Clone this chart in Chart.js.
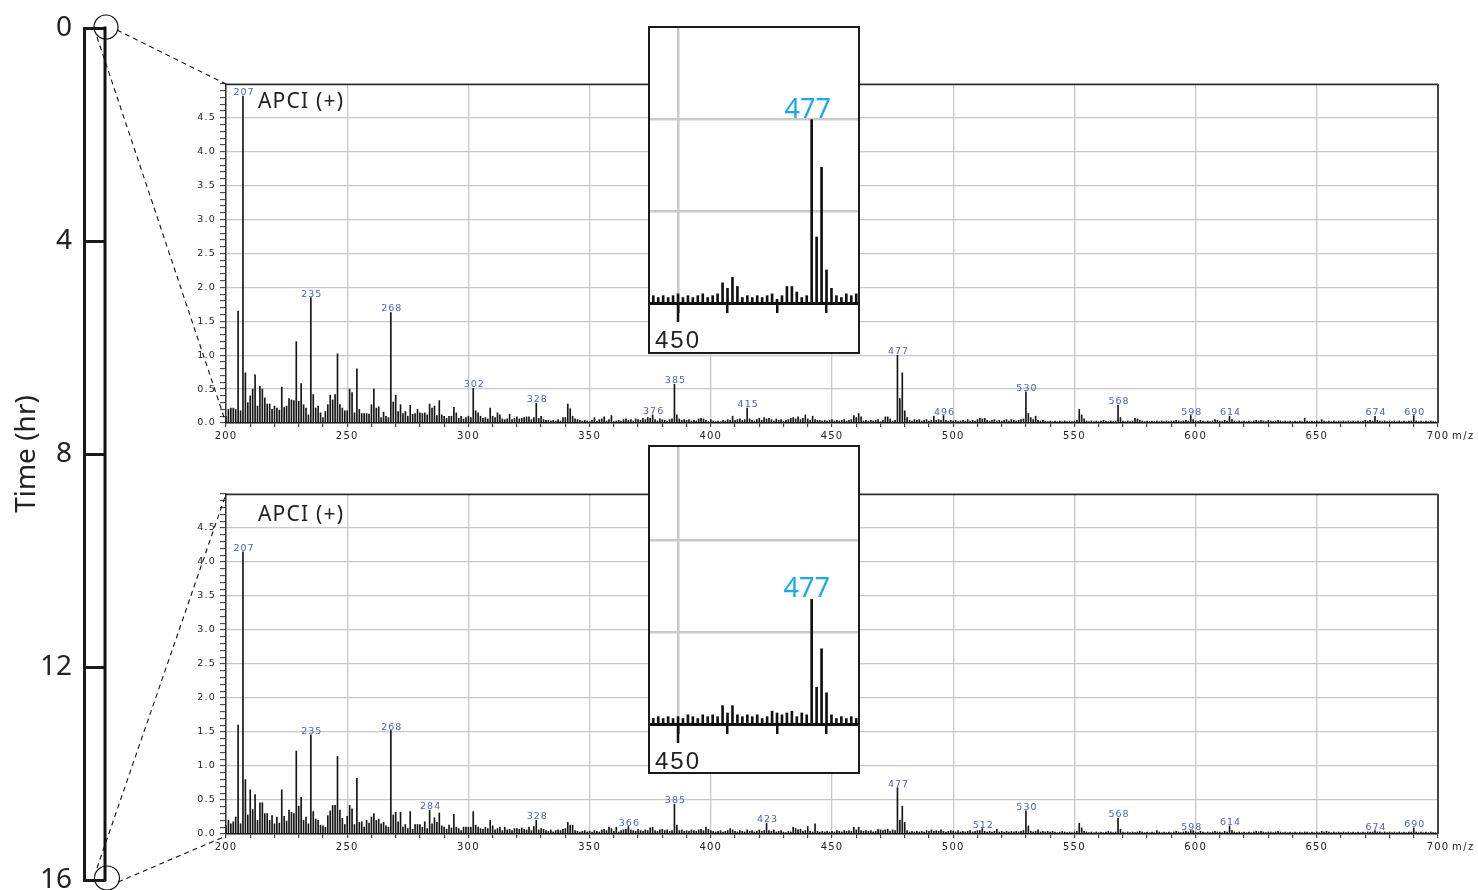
<!DOCTYPE html>
<html><head><meta charset="utf-8">
<script src="https://cdn.jsdelivr.net/npm/chart.js@4.4.1/dist/chart.umd.min.js"></script>
<style>
html,body{margin:0;padding:0;background:#fff;width:1478px;height:890px;overflow:hidden;}
canvas.full{position:absolute;left:0;top:0;}
.inset{position:absolute;left:648px;width:208px;border:2px solid #1c1c1c;background:#fff;}
.inset canvas{display:block;}
</style></head><body>
<canvas id="topSpec" class="full" width="1478" height="890" style="z-index:1"></canvas>
<canvas id="botSpec" class="full" width="1478" height="890" style="z-index:1"></canvas>
<div class="inset" style="top:26px;height:324px;z-index:2"><canvas id="insetTop" width="208" height="324"></canvas></div>
<div class="inset" style="top:445px;height:325px;z-index:2"><canvas id="insetBot" width="208" height="325"></canvas></div>
<canvas id="timeAxis" class="full" width="1478" height="890" style="z-index:3"></canvas>
<script>
// ---------- data ----------
const segmentStarts = [200, 300, 400, 500, 600];   // first m/z of each segment (1 value per integer m/z)

const top200 = [0.10,0.20,0.22,0.22,0.20,1.65,0.18,4.82,0.74,0.30,
 0.40,0.50,0.71,0.25,0.54,0.50,0.37,0.28,0.28,0.20,
 0.25,0.22,0.19,0.53,0.23,0.25,0.36,0.34,0.33,1.20,
 0.32,0.58,0.27,0.22,0.12,1.85,0.42,0.22,0.25,0.15,
 0.08,0.17,0.27,0.41,0.34,0.42,1.02,0.27,0.22,0.18,
 0.18,0.50,0.45,0.15,0.80,0.20,0.14,0.14,0.14,0.13,
 0.27,0.50,0.22,0.24,0.08,0.16,0.10,0.08,1.63,0.31,
 0.41,0.17,0.27,0.14,0.17,0.10,0.26,0.13,0.14,0.20,
 0.15,0.14,0.15,0.12,0.28,0.22,0.25,0.11,0.33,0.12,
 0.10,0.07,0.10,0.10,0.23,0.15,0.07,0.10,0.06,0.08];
const top300 = [0.10,0.08,0.51,0.18,0.15,0.10,0.07,0.08,0.06,0.22,
 0.10,0.08,0.15,0.12,0.06,0.05,0.06,0.13,0.05,0.07,
 0.09,0.06,0.07,0.08,0.09,0.09,0.05,0.08,0.29,0.07,
 0.10,0.05,0.04,0.04,0.03,0.04,0.03,0.05,0.03,0.08,
 0.08,0.28,0.21,0.10,0.06,0.05,0.04,0.03,0.04,0.03,
 0.02,0.04,0.08,0.03,0.05,0.06,0.09,0.03,0.05,0.11,
 0.02,0.03,0.04,0.03,0.05,0.06,0.04,0.05,0.03,0.06,
 0.05,0.04,0.07,0.05,0.08,0.07,0.12,0.05,0.03,0.06,
 0.05,0.04,0.03,0.05,0.06,0.57,0.12,0.06,0.04,0.05,
 0.04,0.05,0.03,0.04,0.03,0.06,0.07,0.06,0.04,0.02];
const top400 = [0.05,0.03,0.02,0.03,0.02,0.04,0.03,0.05,0.04,0.10,
 0.04,0.05,0.06,0.04,0.05,0.22,0.06,0.04,0.03,0.05,
 0.07,0.04,0.08,0.06,0.07,0.05,0.03,0.06,0.04,0.05,
 0.03,0.04,0.05,0.07,0.08,0.06,0.09,0.05,0.07,0.12,
 0.06,0.04,0.10,0.05,0.04,0.04,0.03,0.04,0.03,0.04,
 0.05,0.03,0.04,0.03,0.04,0.05,0.03,0.04,0.05,0.11,
 0.08,0.14,0.09,0.03,0.04,0.03,0.04,0.03,0.04,0.05,
 0.02,0.04,0.09,0.09,0.06,0.03,0.04,1.00,0.36,0.74,
 0.18,0.08,0.04,0.03,0.05,0.04,0.05,0.03,0.04,0.05,
 0.03,0.04,0.10,0.04,0.05,0.04,0.11,0.04,0.03,0.04];
const top500 = [0.03,0.04,0.02,0.03,0.04,0.03,0.05,0.03,0.04,0.03,
 0.05,0.07,0.06,0.07,0.04,0.03,0.04,0.05,0.03,0.04,
 0.03,0.04,0.05,0.03,0.05,0.04,0.03,0.04,0.05,0.06,
 0.46,0.14,0.08,0.05,0.10,0.04,0.03,0.04,0.03,0.02,
 0.03,0.02,0.03,0.02,0.03,0.02,0.03,0.02,0.03,0.02,
 0.03,0.04,0.20,0.12,0.06,0.03,0.02,0.03,0.02,0.03,
 0.02,0.03,0.04,0.03,0.02,0.03,0.02,0.03,0.26,0.08,
 0.03,0.02,0.03,0.02,0.03,0.07,0.06,0.04,0.03,0.02,
 0.03,0.02,0.03,0.02,0.03,0.02,0.03,0.02,0.03,0.02,
 0.03,0.03,0.04,0.03,0.02,0.03,0.04,0.03,0.11,0.05];
const top600 = [0.03,0.02,0.04,0.03,0.02,0.03,0.02,0.03,0.05,0.04,
 0.03,0.02,0.04,0.03,0.10,0.05,0.03,0.02,0.03,0.02,
 0.03,0.02,0.03,0.02,0.03,0.04,0.03,0.04,0.03,0.02,
 0.04,0.03,0.02,0.03,0.04,0.03,0.02,0.03,0.02,0.03,
 0.02,0.03,0.02,0.03,0.02,0.07,0.03,0.02,0.03,0.02,
 0.03,0.02,0.05,0.03,0.02,0.03,0.02,0.03,0.02,0.03,
 0.02,0.03,0.02,0.03,0.02,0.03,0.02,0.03,0.02,0.03,
 0.04,0.03,0.04,0.03,0.10,0.04,0.03,0.02,0.03,0.02,
 0.03,0.02,0.03,0.02,0.03,0.02,0.03,0.02,0.03,0.03,
 0.11,0.03,0.02,0.03,0.02,0.03,0.02,0.03,0.02,0.02];

const bot200 = [0.12,0.20,0.15,0.18,0.25,1.60,0.15,4.15,0.80,0.28,
 0.65,0.36,0.58,0.20,0.46,0.46,0.30,0.30,0.20,0.27,
 0.15,0.25,0.16,0.65,0.26,0.19,0.35,0.32,0.30,1.22,
 0.41,0.54,0.20,0.25,0.15,1.46,0.33,0.22,0.20,0.13,
 0.12,0.10,0.27,0.34,0.42,0.42,1.14,0.35,0.23,0.14,
 0.26,0.42,0.37,0.14,0.82,0.17,0.18,0.10,0.20,0.16,
 0.25,0.30,0.20,0.22,0.15,0.17,0.12,0.10,1.52,0.28,
 0.32,0.18,0.32,0.10,0.14,0.08,0.33,0.07,0.14,0.14,
 0.14,0.10,0.18,0.08,0.35,0.15,0.24,0.17,0.31,0.12,
 0.10,0.07,0.13,0.09,0.29,0.10,0.08,0.05,0.10,0.10];
const bot300 = [0.10,0.10,0.33,0.13,0.10,0.08,0.07,0.10,0.08,0.20,
 0.12,0.06,0.08,0.10,0.05,0.10,0.06,0.07,0.05,0.08,
 0.08,0.07,0.09,0.07,0.06,0.10,0.05,0.11,0.20,0.06,
 0.08,0.07,0.05,0.04,0.06,0.03,0.05,0.06,0.05,0.07,
 0.08,0.17,0.13,0.13,0.05,0.04,0.03,0.04,0.05,0.03,
 0.04,0.03,0.05,0.04,0.03,0.06,0.07,0.05,0.10,0.08,
 0.04,0.10,0.03,0.05,0.06,0.07,0.11,0.06,0.05,0.04,
 0.07,0.05,0.04,0.06,0.05,0.09,0.10,0.05,0.04,0.06,
 0.07,0.05,0.06,0.04,0.05,0.44,0.13,0.05,0.06,0.04,
 0.05,0.04,0.06,0.05,0.04,0.06,0.07,0.05,0.10,0.07];
const bot400 = [0.05,0.04,0.03,0.04,0.05,0.03,0.04,0.05,0.08,0.06,
 0.04,0.03,0.05,0.04,0.03,0.06,0.04,0.05,0.03,0.04,
 0.06,0.04,0.05,0.16,0.05,0.04,0.06,0.03,0.04,0.05,
 0.03,0.02,0.04,0.03,0.10,0.08,0.06,0.07,0.04,0.05,
 0.11,0.04,0.03,0.15,0.04,0.03,0.04,0.03,0.04,0.03,
 0.04,0.03,0.05,0.04,0.03,0.05,0.04,0.05,0.04,0.10,
 0.06,0.10,0.05,0.04,0.05,0.04,0.05,0.03,0.04,0.07,
 0.06,0.05,0.06,0.07,0.04,0.06,0.05,0.68,0.20,0.41,
 0.17,0.05,0.03,0.04,0.03,0.04,0.03,0.04,0.03,0.05,
 0.04,0.06,0.04,0.05,0.04,0.06,0.04,0.03,0.04,0.05];
const bot500 = [0.04,0.03,0.05,0.03,0.04,0.03,0.04,0.05,0.03,0.04,
 0.05,0.05,0.08,0.04,0.03,0.04,0.03,0.04,0.07,0.03,
 0.04,0.03,0.04,0.03,0.04,0.03,0.04,0.03,0.04,0.05,
 0.34,0.12,0.04,0.03,0.04,0.06,0.03,0.04,0.03,0.04,
 0.03,0.04,0.03,0.02,0.03,0.04,0.03,0.02,0.03,0.02,
 0.03,0.04,0.16,0.09,0.04,0.03,0.02,0.03,0.02,0.03,
 0.02,0.03,0.02,0.03,0.04,0.03,0.02,0.03,0.23,0.07,
 0.03,0.02,0.03,0.02,0.03,0.02,0.03,0.04,0.03,0.02,
 0.03,0.02,0.03,0.02,0.05,0.03,0.02,0.03,0.02,0.03,
 0.02,0.03,0.04,0.03,0.02,0.03,0.04,0.03,0.05,0.05];
const bot600 = [0.03,0.02,0.04,0.03,0.02,0.03,0.02,0.03,0.04,0.03,
 0.03,0.02,0.04,0.03,0.12,0.05,0.03,0.02,0.03,0.02,
 0.03,0.02,0.03,0.02,0.03,0.04,0.03,0.04,0.03,0.02,
 0.03,0.03,0.02,0.03,0.04,0.03,0.02,0.03,0.02,0.03,
 0.02,0.03,0.02,0.03,0.02,0.03,0.03,0.02,0.03,0.02,
 0.03,0.02,0.04,0.03,0.04,0.03,0.02,0.03,0.02,0.03,
 0.02,0.03,0.02,0.03,0.02,0.03,0.02,0.03,0.02,0.03,
 0.02,0.03,0.03,0.03,0.05,0.03,0.03,0.02,0.03,0.02,
 0.03,0.02,0.03,0.02,0.03,0.02,0.03,0.02,0.03,0.03,
 0.09,0.03,0.02,0.03,0.02,0.03,0.02,0.03,0.02,0.02];

const topPeakLabels = [207,235,268,302,328,376,385,415,477,496,530,568,598,614,674,690];
const botPeakLabels = [207,235,268,284,328,366,385,423,477,512,530,568,598,614,674,690];
const insetPeak = 477;

const mzTickLabels = [200,250,300,350,400,450,500,550,600,650,700];
const intensityTickLabels = [0.0,0.5,1.0,1.5,2.0,2.5,3.0,3.5,4.0,4.5];
const insetTickValues = [450,460,470,480];
const insetTickLabels = [450];
const insetGridValues = [0.5,1.0];
const insetRange = [444.34, 486.36];
const timeTicks = [0,4,8,12,16];
const timeTitle = 'Time (hr)';
const modeLabel = 'APCI (+)';
const axisUnit = 'm/z';

// ---------- helpers ----------
function buildPoints(segs){
  const pts = [];
  segs.forEach((seg, k) => seg.forEach((v, i) => pts.push({x: segmentStarts[k] + i, y: v})));
  return pts;
}
const topPoints = buildPoints([top200, top300, top400, top500, top600]);
const botPoints = buildPoints([bot200, bot300, bot400, bot500, bot600]);
const valueAt = (pts, m) => pts.find(p => p.x === m).y;
const r1 = v => Math.round(v * 10) / 10;
const CLEAR = 'rgba(0,0,0,0)';
const noEdgePadding = s => { s.paddingLeft = 0; s.paddingRight = 0; s.paddingTop = 0; s.paddingBottom = 0; };

function spacingPlugin(px){
  return {id: 'spacing',
    beforeUpdate(c){ c.ctx.letterSpacing = px; },
    beforeDraw(c){ c.ctx.letterSpacing = px; }};
}

function spectrumPlugin(points, labels, textDy){
  return {id: 'specDecor',
    afterDraw(chart){
      const ctx = chart.ctx, xs = chart.scales.x, ys = chart.scales.y, ca = chart.chartArea;
      ctx.save();
      ctx.strokeStyle = '#2a2a2a'; ctx.lineWidth = 1.5;
      ctx.beginPath(); ctx.moveTo(ca.left, ca.top + 0.5); ctx.lineTo(ca.right, ca.top + 0.5); ctx.stroke();
      ctx.strokeStyle = '#444'; ctx.lineWidth = 2;
      ctx.beginPath(); ctx.moveTo(ca.right, ca.top); ctx.lineTo(ca.right, ca.bottom); ctx.stroke();
      ctx.letterSpacing = '1px';
      ctx.font = '9.5px "DejaVu Sans"'; ctx.fillStyle = '#4a62c4';
      ctx.textAlign = 'center'; ctx.textBaseline = 'alphabetic';
      labels.forEach(m => {
        ctx.fillText(String(m), xs.getPixelForValue(m) + 1, ys.getPixelForValue(valueAt(points, m)) - 1);
      });
      ctx.font = '10px "DejaVu Sans"'; ctx.fillStyle = '#222'; ctx.textAlign = 'left'; ctx.textBaseline = 'middle';
      ctx.letterSpacing = '1.5px';
      ctx.fillText(axisUnit, ca.right + 14, xs.top + 13);
      ctx.letterSpacing = '1.2px';
      ctx.font = '21px "Noto Sans"'; ctx.fillStyle = '#222'; ctx.textBaseline = 'alphabetic';
      ctx.fillText(modeLabel, ca.left + 32, ca.top + textDy);
      ctx.restore();
    }};
}

function spectrumChart(id, points, labels, padTop, padBottom, textDy){
  return new Chart(document.getElementById(id), {
    type: 'bar',
    data: {datasets: [{data: points, backgroundColor: '#151515', barThickness: 1, borderWidth: 0}]},
    options: {
      responsive: false, animation: false, events: [], devicePixelRatio: 1,
      layout: {padding: {left: 0, right: 40, top: padTop, bottom: padBottom}},
      plugins: {legend: {display: false}, tooltip: {enabled: false}},
      scales: {
        x: {type: 'linear', min: 200, max: 700, offset: false,
          grid: {offset: false, lineWidth: 1.3, tickLength: 4, tickWidth: 1, tickColor: '#222',
            color: c => mzTickLabels.includes(c.tick.value) ? '#c8c8c8' : CLEAR},
          border: {color: '#1a1a1a', width: 1.5},
          ticks: {stepSize: 10, autoSkip: false, maxRotation: 0, padding: 3, color: '#222',
            font: {family: 'DejaVu Sans', size: 10},
            callback: v => mzTickLabels.includes(v) ? String(v) : ''},
          afterFit: s => { s.height = 22; }},
        y: {min: 0, max: 5,
          grid: {lineWidth: 1.3, tickLength: 6, tickWidth: 1, tickColor: '#333',
            color: c => (Math.round(r1(c.tick.value) * 10) % 5 === 0) ? '#c8c8c8' : CLEAR},
          border: {color: '#333', width: 1.5},
          ticks: {stepSize: 0.1, autoSkip: false, padding: 4, color: '#222',
            font: {family: 'DejaVu Sans', size: 9.5},
            callback: v => intensityTickLabels.includes(r1(v)) ? r1(v).toFixed(1) : ''},
          afterFit: s => { s.width = 226; }}
      }
    },
    plugins: [spacingPlugin('1.2px'), spectrumPlugin(points, labels, textDy)]
  });
}

function insetChart(id, points, yMax, axisH, labelDx){
  return new Chart(document.getElementById(id), {
    type: 'bar',
    data: {datasets: [{data: points, backgroundColor: '#111', barThickness: 2, borderWidth: 0}]},
    options: {
      responsive: false, animation: false, events: [], devicePixelRatio: 1,
      layout: {padding: 0},
      plugins: {legend: {display: false}, tooltip: {enabled: false}},
      scales: {
        x: {type: 'linear', min: insetRange[0], max: insetRange[1], offset: false,
          afterBuildTicks: s => { s.ticks = insetTickValues.map(v => ({value: v})); },
          grid: {offset: false, lineWidth: 2.5, tickLength: 10, tickWidth: 2.5, tickColor: '#111',
            color: c => insetTickLabels.includes(c.tick.value) ? '#cacaca' : CLEAR},
          border: {color: '#111', width: 3},
          ticks: {autoSkip: false, maxRotation: 0, padding: 14, color: '#222',
            font: {family: 'Liberation Sans', size: 24},
            callback: v => insetTickLabels.includes(v) ? String(v) : ''},
          afterFit: s => { s.height = axisH; noEdgePadding(s); }},
        y: {min: 0, max: yMax,
          afterBuildTicks: s => { s.ticks = insetGridValues.map(v => ({value: v})); },
          ticks: {display: false},
          border: {display: false},
          grid: {drawTicks: false, lineWidth: 2.5, color: '#cacaca'},
          afterFit: s => { s.width = 0; noEdgePadding(s); }}
      }
    },
    plugins: [spacingPlugin('2px'), {id: 'insetDecor', afterDraw(chart){
      const ctx = chart.ctx, xs = chart.scales.x, ys = chart.scales.y, ca = chart.chartArea;
      ctx.save();
      const x450 = xs.getPixelForValue(insetTickLabels[0]);
      ctx.strokeStyle = '#111'; ctx.lineWidth = 2.5;
      ctx.beginPath(); ctx.moveTo(x450, ca.bottom); ctx.lineTo(x450, ca.bottom + 19); ctx.stroke();
      ctx.letterSpacing = '0px';
      ctx.font = '27px "Noto Sans"'; ctx.fillStyle = '#1aabe6';
      ctx.textAlign = 'center'; ctx.textBaseline = 'alphabetic';
      ctx.fillText(String(insetPeak), xs.getPixelForValue(insetPeak) + labelDx,
                   ys.getPixelForValue(valueAt(points, insetPeak)) - 2);
      ctx.restore();
    }}]
  });
}

// ---------- charts ----------
const topChart = spectrumChart('topSpec', topPoints, topPeakLabels, 84, 890 - 423 - 22, 24);
const botChart = spectrumChart('botSpec', botPoints, botPeakLabels, 494, 890 - 834 - 22, 27);
insetChart('insetTop', topPoints, 1.5, 49, -4);
insetChart('insetBot', botPoints, 1.51, 48, -5);

new Chart(document.getElementById('timeAxis'), {
  type: 'scatter',
  data: {datasets: []},
  options: {
    responsive: false, animation: false, events: [], devicePixelRatio: 1,
    layout: {padding: {left: 0, right: 1478 - 105, top: 28, bottom: 10}},
    plugins: {legend: {display: false}, tooltip: {enabled: false}},
    scales: {
      x: {display: false, min: 0, max: 1},
      y: {reverse: true, min: 0, max: 16,
        ticks: {stepSize: 4, autoSkip: false, padding: 12, color: '#222',
          font: {family: 'Noto Sans', size: 28},
          callback: v => timeTicks.includes(v) ? String(v) : ''},
        grid: {drawTicks: false, color: '#1a1a1a', lineWidth: 3},
        border: {color: '#1a1a1a', width: 3},
        title: {display: true, text: timeTitle, color: '#222', font: {family: 'Noto Sans', size: 28},
          padding: {top: 10, bottom: 0}},
        afterFit: s => { s.width = 84; noEdgePadding(s); }}
    }
  },
  plugins: [{id: 'zoomLines', afterDraw(chart){
    const ctx = chart.ctx, ys = chart.scales.y, ca = chart.chartArea;
    const tc = {x: ca.right, y: ys.getPixelForValue(timeTicks[0])};
    const bc = {x: ca.right, y: ys.getPixelForValue(timeTicks[timeTicks.length - 1])};
    const tA = topChart.chartArea, bA = botChart.chartArea;
    ctx.save();
    ctx.strokeStyle = '#111'; ctx.lineWidth = 3;
    ctx.beginPath(); ctx.moveTo(ca.right, ca.top - 1.5); ctx.lineTo(ca.right, ca.bottom + 1.5); ctx.stroke();
    ctx.lineWidth = 1.2;
    ctx.beginPath(); ctx.ellipse(tc.x + 1, tc.y - 1, 12, 12, 0, 0, Math.PI * 2); ctx.stroke();
    ctx.beginPath(); ctx.ellipse(bc.x + 2, bc.y - 2, 12.5, 12, 0, 0, Math.PI * 2); ctx.stroke();
    ctx.setLineDash([5, 4]); ctx.lineWidth = 1.1;
    const seg = (a, b) => { ctx.beginPath(); ctx.moveTo(a[0], a[1]); ctx.lineTo(b[0], b[1]); ctx.stroke(); };
    seg([tc.x + 12, tc.y + 2], [tA.left, tA.top]);
    seg([tc.x - 8, tc.y + 9], [tA.left, tA.bottom]);
    seg([bc.x - 8, bc.y - 12], [bA.left, bA.top]);
    seg([bc.x + 13, bc.y + 2], [bA.left, bA.bottom + 2]);
    ctx.restore();
  }}]
});
</script>
</body></html>
